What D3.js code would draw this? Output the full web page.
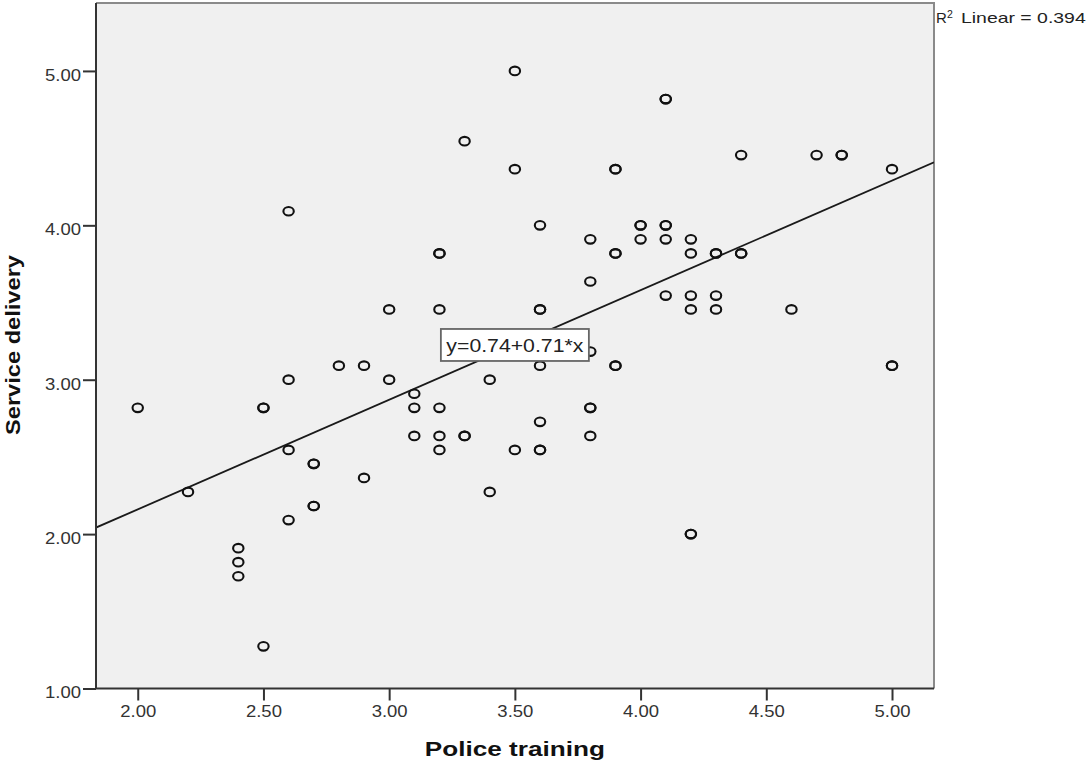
<!DOCTYPE html>
<html>
<head>
<meta charset="utf-8">
<script src="https://cdn.jsdelivr.net/npm/d3@7"></script>
<style>
  html, body { margin: 0; padding: 0; background: #ffffff; }
  svg { display: block; }
  text { font-family: "Liberation Sans", Arial, sans-serif; }
</style>
</head>
<body>
<svg id="chart" width="1090" height="761"></svg>
<script>
// ---- Data ----
const policeTraining = [
  2.0,
  2.2,
  2.4, 2.4, 2.4,
  2.5, 2.5, 2.5,
  2.6, 2.6, 2.6, 2.6,
  2.7, 2.7, 2.7, 2.7,
  2.8,
  2.9, 2.9,
  3.0, 3.0,
  3.1, 3.1, 3.1,
  3.2, 3.2, 3.2, 3.2, 3.2, 3.2,
  3.3, 3.3, 3.3,
  3.4, 3.4,
  3.5, 3.5, 3.5,
  3.6, 3.6, 3.6, 3.6, 3.6, 3.6, 3.6,
  3.8, 3.8, 3.8, 3.8, 3.8, 3.8,
  3.9, 3.9, 3.9, 3.9, 3.9, 3.9,
  4.0, 4.0, 4.0,
  4.1, 4.1, 4.1, 4.1, 4.1, 4.1,
  4.2, 4.2, 4.2, 4.2, 4.2, 4.2,
  4.3, 4.3, 4.3, 4.3,
  4.4, 4.4, 4.4,
  4.6,
  4.7,
  4.8, 4.8,
  5.0, 5.0, 5.0
];
const serviceDelivery = [
  2.818,
  2.273,
  1.909, 1.818, 1.727,
  1.273, 2.818, 2.818,
  4.091, 3.000, 2.545, 2.091,
  2.455, 2.455, 2.182, 2.182,
  3.091,
  3.091, 2.364,
  3.455, 3.000,
  2.909, 2.818, 2.636,
  3.818, 3.818, 3.455, 2.818, 2.636, 2.545,
  4.545, 2.636, 2.636,
  3.000, 2.273,
  5.000, 4.364, 2.545,
  4.000, 3.455, 3.455, 3.091, 2.727, 2.545, 2.545,
  3.909, 3.636, 3.182, 2.818, 2.818, 2.636,
  4.364, 4.364, 3.818, 3.818, 3.091, 3.091,
  4.000, 4.000, 3.909,
  4.818, 4.818, 4.000, 4.000, 3.909, 3.545,
  3.909, 3.818, 3.545, 3.455, 2.000, 2.000,
  3.818, 3.818, 3.545, 3.455,
  4.455, 3.818, 3.818,
  3.455,
  4.455,
  4.455, 4.455,
  4.364, 3.091, 3.091
];
const xTicks = [2.0, 2.5, 3.0, 3.5, 4.0, 4.5, 5.0];
const yTicks = [1.0, 2.0, 3.0, 4.0, 5.0];
const xDomain = [1.834, 5.167];
const yDomain = [1.0, 5.44];
const fitIntercept = [0.74];
const fitSlope = [0.71];
const rSquared = [0.394];
const fitLabelAt = [3.5];

// ---- Layout ----
const svg = d3.select("#chart");
const plot = { left: 96, right: 934, top: 3, bottom: 688.5 };

const x = d3.scaleLinear().domain(xDomain).range([plot.left, plot.right]);
const y = d3.scaleLinear().domain(yDomain).range([plot.bottom, plot.top]);

// background
svg.append("rect")
  .attr("x", plot.left).attr("y", plot.top)
  .attr("width", plot.right - plot.left).attr("height", plot.bottom - plot.top)
  .attr("fill", "#f0f0f0");

// top & right border
svg.append("path")
  .attr("d", `M${plot.left},${plot.top}H${plot.right}V${plot.bottom}`)
  .attr("fill", "none").attr("stroke", "#8a8a8a").attr("stroke-width", 2);

svg.append("clipPath").attr("id", "clip")
  .append("rect")
  .attr("x", plot.left).attr("y", plot.top)
  .attr("width", plot.right - plot.left).attr("height", plot.bottom - plot.top);

// regression line
const b0 = fitIntercept[0], b1 = fitSlope[0];
svg.append("line")
  .attr("clip-path", "url(#clip)")
  .attr("x1", x(xDomain[0])).attr("y1", y(b0 + b1 * xDomain[0]))
  .attr("x2", x(xDomain[1])).attr("y2", y(b0 + b1 * xDomain[1]))
  .attr("stroke", "#1a1a1a").attr("stroke-width", 1.8);

// points
const pts = policeTraining.map((v, i) => ({ x: v, y: serviceDelivery[i] }));
svg.append("g")
  .selectAll("ellipse")
  .data(pts)
  .join("ellipse")
  .attr("cx", d => x(d.x))
  .attr("cy", d => y(d.y))
  .attr("rx", 5.2)
  .attr("ry", 4.3)
  .attr("fill", "none")
  .attr("stroke", "#111")
  .attr("stroke-width", 2.1);

// fit label
const lx = x(fitLabelAt[0]);
const ly = y(b0 + b1 * fitLabelAt[0]);
const lab = svg.append("g");
lab.append("rect")
  .attr("x", lx - 74).attr("y", ly - 16)
  .attr("width", 148).attr("height", 32)
  .attr("fill", "#ffffff").attr("stroke", "#666").attr("stroke-width", 1.8);
lab.append("text")
  .attr("x", lx - 68.5).attr("y", ly + 6.7)
  .attr("font-size", 17.5)
  .attr("fill", "#222")
  .attr("textLength", 137)
  .attr("lengthAdjust", "spacingAndGlyphs")
  .text(`y=${b0.toFixed(2)}+${b1.toFixed(2)}*x`);

// axes
const fmt = d3.format(".2f");
const yAxis = svg.append("g")
  .attr("transform", `translate(${plot.left},0)`)
  .call(d3.axisLeft(y).tickValues(yTicks).tickFormat(fmt).tickSize(13).tickPadding(2));
const xAxis = svg.append("g")
  .attr("transform", `translate(0,${plot.bottom})`)
  .call(d3.axisBottom(x).tickValues(xTicks).tickFormat(fmt).tickSize(12).tickPadding(4));

[yAxis, xAxis].forEach(g => {
  g.select(".domain").remove();
  g.selectAll(".tick line").attr("stroke", "#333").attr("stroke-width", 2);
  g.selectAll(".tick text")
    .attr("fill", "#333")
    .attr("font-size", 17)
    .attr("font-family", "Liberation Sans, Arial, sans-serif")
    .attr("textLength", 36)
    .attr("lengthAdjust", "spacingAndGlyphs");
});
yAxis.selectAll(".tick text").attr("dy", "0.55em");

// axis lines (left, bottom)
svg.append("path")
  .attr("d", `M${plot.left},${plot.top}V${plot.bottom}H${plot.right}`)
  .attr("fill", "none").attr("stroke", "#333").attr("stroke-width", 2);

// axis titles
svg.append("text")
  .attr("transform", `translate(20,345) rotate(-90)`)
  .attr("text-anchor", "middle")
  .attr("font-size", 20).attr("font-weight", "bold")
  .attr("fill", "#111")
  .attr("textLength", 180).attr("lengthAdjust", "spacingAndGlyphs")
  .text("Service delivery");

svg.append("text")
  .attr("x", (x(xTicks[0]) + x(xTicks[xTicks.length - 1])) / 2)
  .attr("y", 756)
  .attr("text-anchor", "middle")
  .attr("font-size", 21).attr("font-weight", "bold")
  .attr("fill", "#111")
  .attr("textLength", 180).attr("lengthAdjust", "spacingAndGlyphs")
  .text("Police training");

// R squared
svg.append("text").attr("x", 936).attr("y", 23.3)
  .attr("font-size", 15).attr("fill", "#222").text("R");
svg.append("text").attr("x", 947).attr("y", 18)
  .attr("font-size", 10.5).attr("fill", "#222").text("2");
svg.append("text").attr("x", 961).attr("y", 23.3)
  .attr("font-size", 15).attr("fill", "#222")
  .attr("textLength", 124.7).attr("lengthAdjust", "spacingAndGlyphs")
  .text(`Linear = ${rSquared[0].toFixed(3)}`);
</script>
</body>
</html>
